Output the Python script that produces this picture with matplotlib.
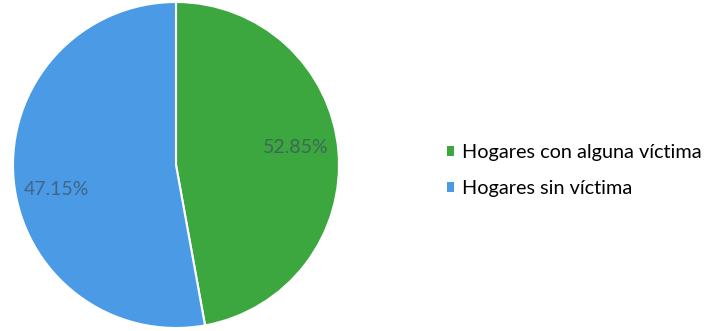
import matplotlib
matplotlib.use("Agg")
import matplotlib.pyplot as plt
import numpy as np
from matplotlib.patches import Patch

categories = ["Hogares con alguna víctima", "Hogares sin víctima"]
# slice sizes as drawn in the reference picture (green ~170 deg of the circle)
sizes = [47.15, 52.85]
# data-label texts exactly as printed on the reference chart
label_texts = ["52.85%", "47.15%"]
colors = ["#3ca63f", "#4a9ae6"]

fig = plt.figure(figsize=(7.04, 3.31), dpi=100)
ax = fig.add_axes([13/704, 3/331, 326/704, 326/331])
wedges, _ = ax.pie(sizes, colors=colors, startangle=90, counterclock=False,
                   wedgeprops=dict(edgecolor="white", linewidth=1.5))
ax.set_aspect("equal")
ax.set_xlim(-1, 1)
ax.set_ylim(-1, 1)

dists = [0.745, 0.75]
offs = [3, 6.3]
for w, txt, d, o in zip(wedges, label_texts, dists, offs):
    ang = np.deg2rad((w.theta1 + w.theta2) / 2 + o)
    ax.text(d * np.cos(ang), d * np.sin(ang), txt, ha="center", va="center",
            fontsize=14, color="#3d4f5f", family="Lato", alpha=0.7)

handles = [Patch(facecolor=c, edgecolor="none") for c in colors]
fig.legend(handles, categories, loc="center left", bbox_to_anchor=(429/704, 160.5/331),
           frameon=False, prop=dict(family="Lato", size=14.3), handlelength=0.35,
           handleheight=0.35, handletextpad=0.4, labelspacing=0.95, borderpad=0.4)
fig.savefig("out.png", dpi=100)
